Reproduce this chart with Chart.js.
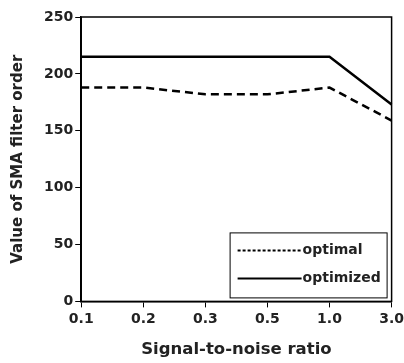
<!DOCTYPE html>
<html>
<head>
<meta charset="utf-8">
<script src="https://cdn.jsdelivr.net/npm/chart.js@4"></script>
<style>
  html, body { margin: 0; padding: 0; background: #fff; }
  #wrap { width: 404px; height: 363px; }
</style>
</head>
<body>
<div id="wrap"><canvas id="chart" width="404" height="363"></canvas></div>
<script>
const snrLabels = ["0.1", "0.2", "0.3", "0.5", "1.0", "3.0"];
const optimalValues = [188, 188, 182, 182, 188, 159];
const optimizedValues = [215, 215, 215, 215, 215, 173];
const yTicks = [0, 50, 100, 150, 200, 250];

const fontFamily = "'DejaVu Sans', sans-serif";

// frame around the plot area
const frame = {
  id: "frame",
  afterDatasetsDraw(chart) {
    const a = chart.chartArea;
    const c = chart.ctx;
    c.save();
    c.strokeStyle = "#000";
    c.lineWidth = 1.5;
    c.strokeRect(a.left, a.top, a.right - a.left, a.bottom - a.top);
    c.restore();
  },
};

// boxed legend inside the plot, bottom right
const boxLegend = {
  id: "boxLegend",
  afterDraw(chart) {
    const a = chart.chartArea;
    const c = chart.ctx;
    const w = 157, h = 65;
    const x = a.right - 5 - w, y = a.bottom - 4 - h;
    c.save();
    c.fillStyle = "#fff";
    c.fillRect(x, y, w, h);
    c.strokeStyle = "#000";
    c.lineWidth = 1;
    c.strokeRect(x + 0.5, y + 0.5, w, h);
    c.font = "bold 14px " + fontFamily;
    c.textBaseline = "middle";
    c.fillStyle = "#222";
    chart.data.datasets.forEach((ds, i) => {
      const ly = y + 18 + i * 28;
      c.beginPath();
      c.setLineDash(ds.borderDash ? [3, 2] : []);
      c.lineWidth = 2;
      c.strokeStyle = "#000";
      c.moveTo(x + 8, ly);
      c.lineTo(x + 72, ly);
      c.stroke();
      c.setLineDash([]);
      c.fillText(ds.label, x + 73, ly);
    });
    c.restore();
  },
};

const ctx = document.getElementById("chart").getContext("2d");

new Chart(ctx, {
  type: "line",
  data: {
    labels: snrLabels,
    datasets: [
      {
        label: "optimal",
        data: optimalValues,
        borderColor: "#000",
        borderWidth: 2.5,
        borderDash: [8, 5],
        pointRadius: 0,
        tension: 0,
        fill: false,
      },
      {
        label: "optimized",
        data: optimizedValues,
        borderColor: "#000",
        borderWidth: 2.5,
        pointRadius: 0,
        tension: 0,
        fill: false,
      },
    ],
  },
  options: {
    responsive: false,
    animation: false,
    layout: { padding: { top: 17, right: 0, left: 4, bottom: 3 } },
    plugins: {
      legend: { display: false },
      tooltip: { enabled: false },
    },
    scales: {
      x: {
        offset: false,
        grid: { display: true, drawOnChartArea: false, color: "#000", tickLength: 6 },
        border: { color: "#000", width: 1.5 },
        ticks: {
          color: "#222",
          font: { family: fontFamily, size: 14, weight: "bold", lineHeight: 1.7 },
          padding: 0,
          maxRotation: 0,
        },
        title: {
          display: true,
          text: "Signal-to-noise ratio",
          color: "#222",
          font: { family: fontFamily, size: 16.5, weight: "bold" },
          padding: { top: 9, bottom: 0 },
        },
      },
      y: {
        min: 0,
        max: 250,
        afterBuildTicks(axis) {
          axis.ticks = yTicks.map((v) => ({ value: v }));
        },
        grid: { display: true, drawOnChartArea: false, color: "#000", tickLength: 6 },
        border: { color: "#000", width: 1.5 },
        ticks: {
          color: "#222",
          font: { family: fontFamily, size: 14, weight: "bold" },
          padding: 2,
        },
        title: {
          display: true,
          text: "Value of SMA filter order",
          color: "#222",
          font: { family: fontFamily, size: 15, weight: "bold" },
          padding: { top: 5, bottom: 15 },
        },
      },
    },
  },
  plugins: [frame, boxLegend],
});
</script>
</body>
</html>
